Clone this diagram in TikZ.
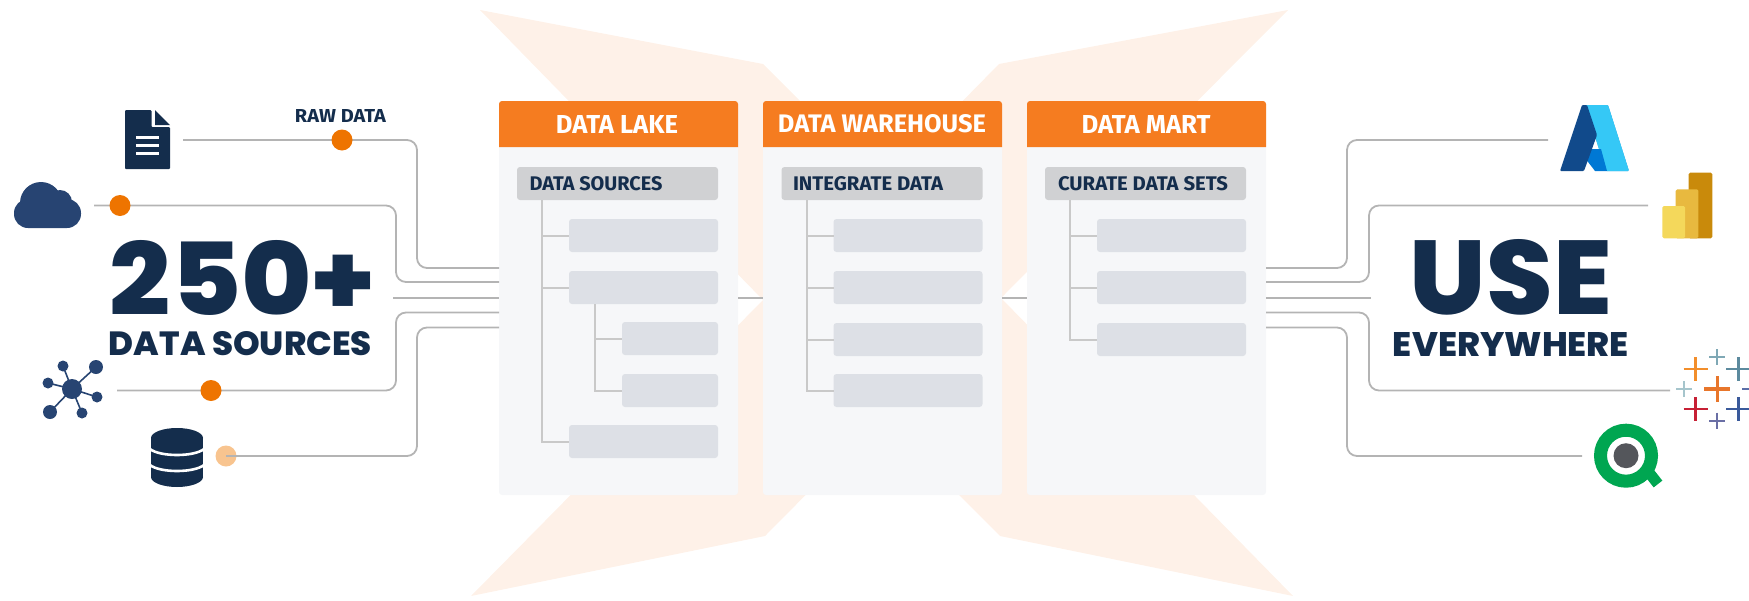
\documentclass[tikz,border=0pt]{standalone}
\usepackage{fontspec}
\usepackage{graphicx}
\setmainfont{Fira Sans}
\newfontfamily\heavyf{Poppins}[UprightFont=* ExtraBold]
\newfontfamily\boldf{Fira Sans}[UprightFont=* Bold]
\definecolor{navy}{HTML}{142D4C}
\definecolor{midnavy}{HTML}{274472}
\definecolor{wirec}{HTML}{B4B4B4}
\definecolor{dotc}{HTML}{EE7400}
\definecolor{dotl}{HTML}{F8C48F}
\definecolor{xfill}{HTML}{FEF1E8}
\definecolor{panelc}{HTML}{F6F7F9}
\definecolor{headc}{HTML}{F57C20}
\definecolor{subc}{HTML}{D0D1D3}
\definecolor{itemc}{HTML}{DDE0E6}
\definecolor{treec}{HTML}{C9C9C9}
\definecolor{qgreen}{HTML}{00A651}
\newcommand{\fittxt}[3]{\resizebox{#1pt}{#2pt}{#3}}
\newcommand{\rbox}[6]{\node[#6,inner sep=0pt,outer sep=0pt,minimum width={(#4-#2)*1pt},minimum height={(#5-#3)*1pt}] (#1) at ({(#2+#4)/2},{(#3+#5)/2}) {};}
\newcommand{\tabplus}[5]{\draw[line width=#4pt,#5] ({#1-#3},#2) -- ({#1+#3},#2) ({#1},{#2-#3}) -- ({#1},{#2+#3});}
\tikzset{
  wire/.style={draw=wirec,line width=1.8pt,rounded corners=10pt},
  treeline/.style={draw=treec,line width=2pt},
  panel/.style={fill=panelc,rounded corners=3pt},
  subbox/.style={fill=subc,rounded corners=3pt},
  itembox/.style={fill=itemc,rounded corners=3pt},
  lab/.style={inner sep=0pt,outer sep=0pt},
  dot/.style={circle,fill=dotc,inner sep=0pt,minimum size=21pt},
  dotpale/.style={circle,fill=dotl,inner sep=0pt,minimum size=21pt},
}
\begin{document}
\begin{tikzpicture}[x=1pt,y=-1pt]
\path[use as bounding box] (0,0) rectangle (1749,600);
\begin{scope}
\clip (0,0) rectangle (1749,600);
% background X
\fill[xfill] (480,10) -- (763,64) -- (882,183) -- (999,64) -- (1288,10) -- (1001,298) -- (1293,596) -- (1000,536) -- (882,418) -- (765,536) -- (471,596) -- (763,300) -- cycle;

% panels
\rbox{lake}{499}{101}{738}{495}{panel}
\rbox{wh}{763}{101}{1002}{495}{panel}
\rbox{mart}{1027}{101}{1266}{495}{panel}
\foreach \a/\b in {499/738,763/1002,1027/1266}{
  \fill[headc] (\a,147) {[rounded corners=3pt] -- (\a,101) -- (\b,101)} -- (\b,147) -- cycle;
}
\node[lab,text=white] (lakeh) at (617,124) {\fittxt{122}{18}{\boldf DATA LAKE}};
\node[lab,text=white] (whh) at (882,124) {\fittxt{208}{18}{\boldf DATA WAREHOUSE}};
\node[lab,text=white] (marth) at (1146,124) {\fittxt{129}{18}{\boldf DATA MART}};

% panel boxes, lake
\rbox{s1}{517}{167}{718}{200}{subbox}
\rbox{l1}{569}{219}{718}{252}{itembox}
\rbox{l2}{569}{271}{718}{304}{itembox}
\rbox{l3}{622}{322}{718}{355}{itembox}
\rbox{l4}{622}{374}{718}{407}{itembox}
\rbox{l5}{569}{425}{718}{458}{itembox}
\coordinate (t1) at (542,200);
\coordinate (t2) at (595,304);
\draw[treeline] (t1) |- (l5.west);
\draw[treeline] (t1 |- l1.west) -- (l1.west);
\draw[treeline] (t1 |- l2.west) -- (l2.west);
\draw[treeline] (t2) |- (l4.west);
\draw[treeline] (t2 |- l3.west) -- (l3.west);
\node[lab,text=navy,anchor=west] (s1t) at (529.5,184) {\fittxt{133}{14}{\boldf DATA SOURCES}};

% panel boxes, warehouse
\rbox{s2}{781.5}{167}{982.5}{200}{subbox}
\rbox{w1}{833.5}{219}{982.5}{252}{itembox}
\rbox{w2}{833.5}{271}{982.5}{304}{itembox}
\rbox{w3}{833.5}{323}{982.5}{356}{itembox}
\rbox{w4}{833.5}{374}{982.5}{407}{itembox}
\coordinate (t3) at (806.5,200);
\draw[treeline] (t3) |- (w4.west);
\draw[treeline] (t3 |- w1.west) -- (w1.west);
\draw[treeline] (t3 |- w2.west) -- (w2.west);
\draw[treeline] (t3 |- w3.west) -- (w3.west);
\node[lab,text=navy,anchor=west] (s2t) at (793,184) {\fittxt{150}{14}{\boldf INTEGRATE DATA}};

% panel boxes, mart
\rbox{s3}{1045}{167}{1246}{200}{subbox}
\rbox{m1}{1097}{219}{1246}{252}{itembox}
\rbox{m2}{1097}{271}{1246}{304}{itembox}
\rbox{m3}{1097}{323}{1246}{356}{itembox}
\coordinate (t4) at (1070,200);
\draw[treeline] (t4) |- (m3.west);
\draw[treeline] (t4 |- m1.west) -- (m1.west);
\draw[treeline] (t4 |- m2.west) -- (m2.west);
\node[lab,text=navy,anchor=west] (s3t) at (1058,184) {\fittxt{170}{14}{\boldf CURATE DATA SETS}};

% wire anchors
\coordinate (inA) at (499,268);
\coordinate (inB) at (499,282);
\coordinate (inC) at (499,298);
\coordinate (inD) at (499,312.5);
\coordinate (inE) at (499,327.5);
\coordinate (outA) at (1266,268);
\coordinate (outB) at (1266,282);
\coordinate (outC) at (1266,298);
\coordinate (outD) at (1266,312.5);
\coordinate (outE) at (1266,327.5);
\coordinate (srcA) at (183,140);
\coordinate (srcB) at (94,205.5);
\coordinate (srcC) at (393,298);
\coordinate (srcD) at (117,390.5);
\coordinate (srcE) at (226,456);
\coordinate (useA) at (1548,140);
\coordinate (useB) at (1648,205.5);
\coordinate (useC) at (1371,298);
\coordinate (useD) at (1670,390.5);
\coordinate (useE) at (1582,456);
\coordinate (busO) at (417,0);
\coordinate (busI) at (396,0);
\coordinate (busR) at (1347,0);
\coordinate (busS) at (1369,0);

% wires
\draw[wire] (srcA) -- (srcA -| busO) -- (busO |- inA) -- (inA);
\draw[wire] (srcB) -- (srcB -| busI) -- (busI |- inB) -- (inB);
\draw[wire] (srcC) -- (inC);
\draw[wire] (srcD) -- (srcD -| busI) -- (busI |- inD) -- (inD);
\draw[wire] (srcE) -- (srcE -| busO) -- (busO |- inE) -- (inE);
\draw[wire] (useA) -- (useA -| busR) -- (busR |- outA) -- (outA);
\draw[wire] (useB) -- (useB -| busS) -- (busS |- outB) -- (outB);
\draw[wire] (useC) -- (outC);
\draw[wire] (useD) -- (useD -| busS) -- (busS |- outD) -- (outD);
\draw[wire] (useE) -- (useE -| busR) -- (busR |- outE) -- (outE);
\draw[wire] (lake.east |- inC) -- (wh.west |- inC);
\draw[wire] (wh.east |- inC) -- (mart.west |- inC);

% dots
\node[dot] (d1) at (342,140) {};
\node[dot] (d2) at (120,205.5) {};
\node[dot] (d3) at (211,390.5) {};
\node[dotpale] (d4) at (226,456) {};
\draw[wire] (d4.center) -- (d4.east);

% labels
\node[lab,text=navy] (raw) at (340.5,115.5) {\fittxt{91}{13}{\boldf RAW DATA}};
\node[lab,text=navy] (n250) at (242.5,277.5) {\fittxt{265}{75}{\heavyf 250+}};
\node[lab,text=navy] (nds) at (240.5,344) {\fittxt{263}{24}{\heavyf DATA SOURCES}};
\node[lab,text=navy] (nuse) at (1511,277.5) {\fittxt{202}{75}{\heavyf USE}};
\node[lab,text=navy] (nev) at (1511,344) {\fittxt{236}{24}{\heavyf EVERYWHERE}};

% document icon
\fill[navy,rounded corners=1pt] (125,110) -- (151.5,110) -- (151.5,127) -- (170,127) -- (170,169) -- (125,169) -- cycle;
\fill[navy] (155,110) -- (170,125) -- (155,125) -- cycle;
\draw[white,line width=3pt] (136,137) -- (159,137) (136,145) -- (159,145) (136,153) -- (159,153);

% cloud icon
\fill[midnavy,rounded corners=14pt] (14,199) rectangle (81,228);
\fill[midnavy] (41,203) circle (21);
\fill[midnavy] (60,202) circle (12);

% network icon
\foreach \px/\py/\pr in {96/367/7,63/366/5.5,48/383/5.5,97/397/5.5,50/412/7,82/413/5.5}{
  \draw[midnavy,line width=1.6pt] (72,389) -- (\px,\py);
  \fill[midnavy] (\px,\py) circle (\pr);
}
\fill[midnavy] (72,389) circle (10);

% database icon
\fill[navy] (151,438) rectangle (203,477);
\fill[navy] (177,438) ellipse (26 and 10);
\fill[navy] (177,477) ellipse (26 and 10);
\draw[white,line width=2.6pt] (150,449) .. controls (160,457) and (194,457) .. (204,449);
\draw[white,line width=2.6pt] (150,465) .. controls (160,473) and (194,473) .. (204,465);

% azure icon
\fill[cyan!75!blue!85!white,rounded corners=1pt] (1585,105) -- (1608,105) -- (1629,171) -- (1606,171) -- cycle;
\fill[blue!55!black!0,fill={rgb,255:red,53;green,200;blue,246},rounded corners=1pt] (1585,105) -- (1608,105) -- (1629,171) -- (1606,171) -- cycle;
\fill[fill={rgb,255:red,0;green,120;blue,212}] (1578,149) -- (1601,149) -- (1607,171) -- (1595,171) -- cycle;
\fill[fill={rgb,255:red,17;green,74;blue,139},rounded corners=1pt] (1582,105) -- (1587,105) -- (1597,135) -- (1584,171) -- (1560,171) -- cycle;

% power bi icon
\fill[fill={rgb,255:red,201;green,138;blue,11},rounded corners=1.5pt] (1688.7,172.7) rectangle (1712.3,238.3);
\fill[fill={rgb,255:red,232;green,185;blue,63},rounded corners=1.5pt] (1675.7,189.3) rectangle (1698.3,238.3);
\fill[fill={rgb,255:red,244;green,216;blue,91},rounded corners=1.5pt] (1662.3,206) rectangle (1685,238.3);

% tableau icon
\tabplus{1717.3}{389}{13}{3.6}{color={rgb,255:red,232;green,118;blue,43}}
\tabplus{1695.7}{369}{12}{2.8}{color={rgb,255:red,242;green,142;blue,43}}
\tabplus{1717}{357.3}{8}{2.2}{color={rgb,255:red,127;green,168;blue,181}}
\tabplus{1738.3}{369}{12}{2.8}{color={rgb,255:red,92;green,138;blue,158}}
\tabplus{1684}{389}{8}{2.2}{color={rgb,255:red,166;green,197;blue,204}}
\tabplus{1750}{389}{8}{2.2}{color={rgb,255:red,91;green,111;blue,168}}
\tabplus{1695.7}{409}{12}{2.8}{color={rgb,255:red,199;green,32;blue,53}}
\tabplus{1738.3}{409}{12}{2.8}{color={rgb,255:red,58;green,90;blue,155}}
\tabplus{1717}{420.7}{8}{2.2}{color={rgb,255:red,106;green,111;blue,165}}

% qlik icon
\draw[qgreen,line width=13pt] (1626,455.7) circle (25.5);
\draw[qgreen,line width=11pt] (1647,470) -- (1658,484);
\fill[fill={rgb,255:red,84;green,86;blue,91}] (1626,455.7) circle (12.5);
\end{scope}
\end{tikzpicture}
\end{document}
